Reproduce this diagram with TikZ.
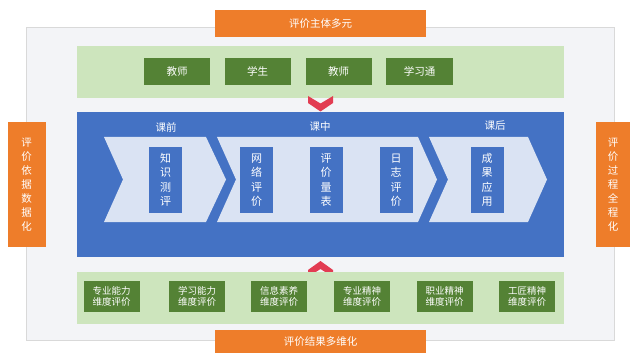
\documentclass[tikz,border=0pt]{standalone}
\usepackage{fontspec}
\setmainfont{Noto Sans CJK SC}
\definecolor{orangeb}{HTML}{EE7D2A}
\definecolor{blueb}{HTML}{4472C4}
\definecolor{chev}{HTML}{DAE3F3}
\definecolor{lgreen}{HTML}{CDE5BD}
\definecolor{dgreen}{HTML}{548235}
\definecolor{panelc}{HTML}{F3F4F7}
\definecolor{redc}{HTML}{E23C52}
\begin{document}
\begin{tikzpicture}[x=1pt,y=-1pt,
  every node/.style={inner sep=0pt, outer sep=0pt},
  obox/.style={fill=orangeb, text=white, font=\fontsize{10.5}{12.5}\selectfont},
  gpanel/.style={fill=lgreen, minimum width=487pt, minimum height=52pt},
  gbox/.style={fill=dgreen, text=white, minimum width=66pt, minimum height=27pt, font=\fontsize{10.5}{12}\selectfont},
  gbox2/.style={fill=dgreen, text=white, minimum width=56pt, minimum height=31pt, align=center, font=\fontsize{9.5}{11.5}\selectfont},
  bbox/.style={fill=blueb, text=white, minimum width=33pt, minimum height=66pt, align=center, font=\fontsize{11}{14.5}\selectfont},
  sidetext/.style={align=center, font=\fontsize{10.5}{14}\selectfont},
  phase/.style={text=white, font=\fontsize{10.5}{12}\selectfont},
  chevshape/.style={fill=chev},
  redchev/.style={fill=redc}
]
\useasboundingbox (0,0) rectangle (630,353);
\fill[white] (0,0) rectangle (630,353);
% outer panel
\node[draw=black!15, fill=panelc, anchor=north west, minimum width=588pt, minimum height=313pt] (panel) at (26,27) {};
% top
\node[obox, minimum width=211pt, minimum height=27pt] (top) at (320.5,23.5) {评价主体多元};
\node[gpanel] (gtop) at (320.5,72) {};
\node[gbox] (t1) at (177,71.5) {教师};
\node[gbox] (t2) at (257.5,71.5) {学生};
\node[gbox] (t3) at (338.5,71.5) {教师};
\node[gbox, minimum width=67pt] (t4) at (419.5,71.5) {学习通};
% red down chevron
\fill[redchev] (308,96) -- (320.5,103.5) -- (333,96) -- (333,103) -- (320.5,111.5) -- (308,103) -- cycle;
% blue main box
\node[fill=blueb, minimum width=487pt, minimum height=145pt] (main) at (320.5,184.5) {};
\node[phase] (p1) at (166,127) {课前};
\node[phase] (p2) at (320,127) {课中};
\node[phase] (p3) at (495,126) {课后};
% chevrons
\fill[chevshape] (104,137) -- (206,137) -- (226,179.5) -- (206,222) -- (104,222) -- (123,179.5) -- cycle;
\fill[chevshape] (217,137) -- (418,137) -- (437,179.5) -- (418,222) -- (217,222) -- (236,179.5) -- cycle;
\fill[chevshape] (429,137) -- (528,137) -- (547,179.5) -- (528,222) -- (429,222) -- (448,179.5) -- cycle;
\node[bbox] (b1) at (165.5,180) {知\\识\\测\\评};
\node[bbox] (b2) at (256.5,180) {网\\络\\评\\价};
\node[bbox] (b3) at (326,180) {评\\价\\量\\表};
\node[bbox] (b4) at (396,180) {日\\志\\评\\价};
\node[bbox] (b5) at (487,180) {成\\果\\应\\用};
% side boxes
\node[obox, sidetext, minimum width=38pt, minimum height=125pt] (left) at (26.5,184.5) {评\\价\\依\\据\\数\\据\\化};
\node[obox, sidetext, minimum width=34pt, minimum height=125pt] (right) at (613,184.5) {评\\价\\过\\程\\全\\程\\化};
% red up chevron
\fill[redchev] (308,277) -- (320.5,269) -- (333,277) -- (333,270) -- (320.5,261) -- (308,270) -- cycle;
% bottom
\node[gpanel] (gbot) at (320.5,298) {};
\node[gbox2] (d1) at (111.5,296.5) {专业能力\\维度评价};
\node[gbox2] (d2) at (197,296.5) {学习能力\\维度评价};
\node[gbox2] (d3) at (279,296.5) {信息素养\\维度评价};
\node[gbox2] (d4) at (362,296.5) {专业精神\\维度评价};
\node[gbox2] (d5) at (444.5,296.5) {职业精神\\维度评价};
\node[gbox2] (d6) at (527,296.5) {工匠精神\\维度评价};
\node[obox, minimum width=211pt, minimum height=23pt] (bot) at (320.5,341.5) {评价结果多维化};
\end{tikzpicture}
\end{document}
